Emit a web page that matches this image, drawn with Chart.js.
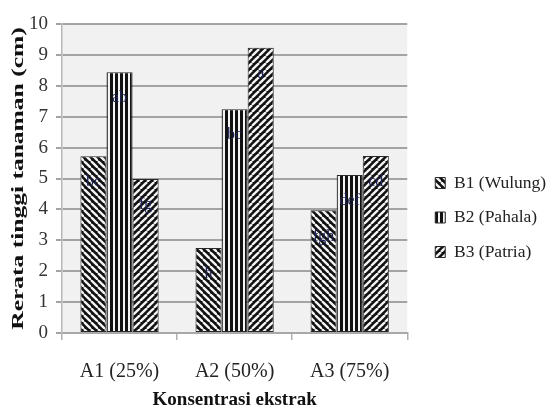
<!DOCTYPE html>
<html>
<head>
<meta charset="utf-8">
<script src="https://cdn.jsdelivr.net/npm/chart.js@4.4.0/dist/chart.umd.min.js"></script>
<style>
  html, body { margin: 0; padding: 0; background: #fff; }
  #wrap { width: 550px; height: 412px; }
</style>
</head>
<body>
<div id="wrap"><canvas id="c" width="550" height="412"></canvas></div>
<script>
// data
const categories = ['A1 (25%)', 'A2 (50%)', 'A3 (75%)']
const seriesNames = ['B1 (Wulung)', 'B2 (Pahala)', 'B3 (Patria)']
const wulung = [5.72, 2.75, 3.97]
const pahala = [8.44, 7.24, 5.11]
const patria = [4.98, 9.23, 5.73]
const wulungLetters = ['bc', 'h', 'fgh']
const pahalaLetters = ['ab', 'bc', 'def']
const patriaLetters = ['fg', 'a', 'cd']
const yTicks = [0, 1, 2, 3, 4, 5, 6, 7, 8, 9, 10]
const yTitle = 'Rerata tinggi tanaman (cm)'

const SERIF = '"Liberation Serif", "DejaVu Serif", serif'
const LEGEND_SHIFT = 11

// striped fills: black ground, white stripes
function stripePattern(kind) {
  const s = kind === 'v' ? 5 : 7
  const tile = document.createElement('canvas')
  tile.width = s
  tile.height = s
  const g = tile.getContext('2d')
  g.fillStyle = '#111'
  g.fillRect(0, 0, s, s)
  g.strokeStyle = '#f4f4f4'
  if (kind === 'v') {
    g.fillStyle = '#f4f4f4'
    g.fillRect(3, 0, 2, s)
  } else {
    g.lineWidth = 2.3
    for (let k = -1; k <= 1; k++) {
      g.beginPath()
      if (kind === 'back') {
        g.moveTo(k * s, 0)
        g.lineTo(k * s + s, s)
      } else {
        g.moveTo(k * s, s)
        g.lineTo(k * s + s, 0)
      }
      g.stroke()
    }
  }
  return document.getElementById('c').getContext('2d').createPattern(tile, 'repeat')
}

const plotBg = {
  id: 'plotBg',
  beforeDraw(chart) {
    const { ctx, chartArea: a } = chart
    ctx.save()
    ctx.fillStyle = '#f1f1f1'
    ctx.fillRect(a.left, a.top, a.right - a.left, a.bottom - a.top)
    ctx.restore()
  },
}

// push the legend back to the right after the plot was narrowed by padding
const legendNudge = {
  id: 'legendNudge',
  afterLayout(chart) {
    if (!chart.legend) return
    chart.legend.left += LEGEND_SHIFT
    chart.legend.right += LEGEND_SHIFT
  },
}

// the y title in the source is drawn wide (stretched along its length)
const stretchedYTitle = {
  id: 'stretchedYTitle',
  afterDraw(chart) {
    const { ctx, chartArea: a } = chart
    ctx.save()
    ctx.translate(19, (a.top + a.bottom) / 2)
    ctx.rotate(-Math.PI / 2)
    ctx.scale(1.5, 1)
    ctx.font = 'bold 17px ' + SERIF
    ctx.fillStyle = '#111'
    ctx.textAlign = 'center'
    ctx.textBaseline = 'middle'
    ctx.fillText(yTitle, 0, 0)
    ctx.restore()
  },
}

const letterLabels = {
  id: 'letterLabels',
  afterDatasetsDraw(chart) {
    const { ctx } = chart
    ctx.save()
    ctx.font = '16px ' + SERIF
    ctx.fillStyle = '#1d2455'
    ctx.textAlign = 'center'
    ctx.textBaseline = 'middle'
    chart.data.datasets.forEach((ds, i) => {
      chart.getDatasetMeta(i).data.forEach((bar, j) => {
        ctx.fillText(ds.letters[j], bar.x, bar.y + 26)
      })
    })
    ctx.restore()
  },
}

const ds = (label, data, letters, kind) => ({
  label,
  data,
  letters,
  backgroundColor: stripePattern(kind),
  borderColor: '#2a2a2a',
  borderWidth: 1,
  borderSkipped: false,
  categoryPercentage: 0.68,
  barPercentage: 1.0,
})

new Chart(document.getElementById('c'), {
  type: 'bar',
  data: {
    labels: categories,
    datasets: [
      ds(seriesNames[0], wulung, wulungLetters, 'back'),
      ds(seriesNames[1], pahala, pahalaLetters, 'v'),
      ds(seriesNames[2], patria, patriaLetters, 'fwd'),
    ],
  },
  options: {
    responsive: false,
    animation: false,
    layout: { padding: { top: 24, right: LEGEND_SHIFT + 3, bottom: 1, left: 21 } },
    plugins: {
      legend: {
        position: 'right',
        labels: {
          boxWidth: 10,
          boxHeight: 11,
          padding: 17,
          color: '#222',
          font: { family: SERIF, size: 17.5 },
        },
      },
      tooltip: { enabled: false },
    },
    scales: {
      x: {
        afterFit: (scale) => { scale.height = 78 },
        grid: { offset: true, drawOnChartArea: false, color: '#b0b0b0', lineWidth: 1.5, tickLength: 7 },
        border: { color: '#a8a8a8', width: 2 },
        ticks: { color: '#222', padding: 20, font: { family: SERIF, size: 20 } },
        title: {
          display: true,
          text: 'Konsentrasi ekstrak',
          color: '#111',
          font: { family: SERIF, size: 19, weight: 'bold' },
          padding: { top: 3, bottom: 0 },
        },
      },
      y: {
        min: 0,
        max: 10,
        afterBuildTicks: (axis) => { axis.ticks = yTicks.map(v => ({ value: v })) },
        grid: { color: '#a3a3a3', lineWidth: 2, tickLength: 6 },
        border: { color: '#b8b8b8', width: 1.5 },
        ticks: { color: '#333', padding: 8, font: { family: SERIF, size: 19 } },
      },
    },
  },
  plugins: [plotBg, legendNudge, letterLabels, stretchedYTitle],
})
</script>
</body>
</html>
